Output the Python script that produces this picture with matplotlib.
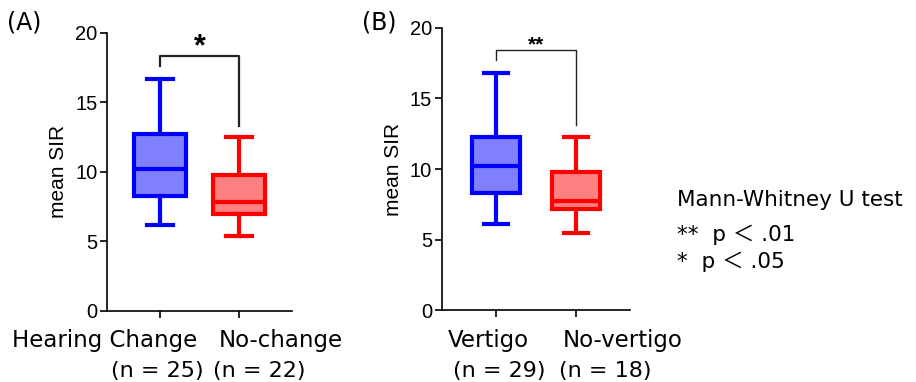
"""Box plots of mean SIR by hearing change and vertigo groups."""

import matplotlib
matplotlib.use("Agg")
import matplotlib.pyplot as plt

# panel A: hearing change vs no-change
a_labels = ["Hearing Change", "No-change"]
a_counts = ["(n = 25)", "(n = 22)"]
a_whislo = [6.2, 5.4]
a_q1 = [8.3, 7.0]
a_med = [10.2, 7.8]
a_q3 = [12.7, 9.8]
a_whishi = [16.7, 12.5]

# panel B: vertigo vs no-vertigo
b_labels = ["Vertigo", "No-vertigo"]
b_counts = ["(n = 29)", "(n = 18)"]
b_whislo = [6.1, 5.45]
b_q1 = [8.3, 7.2]
b_med = [10.2, 7.7]
b_q3 = [12.3, 9.8]
b_whishi = [16.8, 12.3]

y_ticks = [0, 5, 10, 15, 20]

EDGE = ["#0000ff", "#ff0000"]
FACE = ["#8080ff", "#ff8080"]
WIDE = ["DejaVu Sans", "Noto Sans CJK JP"]

plt.rcParams["font.family"] = ["Liberation Sans", "DejaVu Sans"]


def make_stats(whislo, q1, med, q3, whishi):
    return [
        {"whislo": lo, "q1": a, "med": m, "q3": b, "whishi": hi, "fliers": []}
        for lo, a, m, b, hi in zip(whislo, q1, med, q3, whishi)
    ]


def draw_panel(ax, stats, width):
    for i, st in enumerate(stats):
        props = dict(color=EDGE[i], linewidth=3)
        ax.bxp(
            [st],
            positions=[i],
            widths=width,
            capwidths=width * 0.5,
            patch_artist=True,
            showfliers=False,
            boxprops=dict(facecolor=FACE[i], edgecolor=EDGE[i], linewidth=3),
            medianprops=props,
            whiskerprops=props,
            capprops=props,
        )
    ax.set_xlim(-0.67, 1.67)
    ax.set_ylim(0, 20)
    ax.set_yticks(y_ticks)
    ax.set_xticks([0, 1], ["", ""])
    ax.spines[["top", "right"]].set_visible(False)
    for side in ["left", "bottom"]:
        ax.spines[side].set_linewidth(1.2)
    ax.tick_params(width=1.2, length=5, labelsize=14.5, pad=2)
    ax.set_ylabel("mean SIR", fontsize=15, labelpad=5)


def group_text(ax, xs, texts, y, size):
    trans = ax.get_xaxis_transform()
    for x, t in zip(xs, texts):
        ax.text(x, y, t, transform=trans, ha="center", va="baseline",
                fontsize=size, family=WIDE)


fig = plt.figure(figsize=(9.16, 3.82), dpi=100)
ax_a = fig.add_axes([0.1168, 0.186, 0.202, 0.728])
ax_b = fig.add_axes([0.4825, 0.188, 0.205, 0.739])

draw_panel(ax_a, make_stats(a_whislo, a_q1, a_med, a_q3, a_whishi), 0.65)
draw_panel(ax_b, make_stats(b_whislo, b_q1, b_med, b_q3, b_whishi), 0.6)

group_text(ax_a, [-0.70, 1.53], a_labels, -0.1295, 16.5)
group_text(ax_a, [-0.038, 1.25], a_counts, -0.236, 16)
group_text(ax_b, [-0.086, 1.58], b_labels, -0.131, 16.5)
group_text(ax_b, [0.049, 1.37], b_counts, -0.236, 16)

# significance brackets
ax_a.plot([0, 0, 1, 1], [17.6, 18.3, 18.3, 13.3], color="#222222", lw=1.6)
ax_a.text(0.5, 18.95, "*", ha="center", va="center", fontsize=22,
          fontweight="bold")
ax_b.plot([0, 0, 1, 1], [17.7, 18.4, 18.4, 13.1], color="#222222", lw=1.0)
ax_b.text(0.5, 18.8, "**", ha="center", va="center", fontsize=15,
          fontweight="bold")

fig.text(0.008, 0.942, "(A)", fontsize=17, family=WIDE, va="center")
fig.text(0.395, 0.942, "(B)", fontsize=17, family=WIDE, va="center")

fig.text(0.739, 0.476, "Mann-Whitney U test", fontsize=15.5, family=WIDE, va="center")
fig.text(0.739, 0.385, "**  p ＜ .01", fontsize=15.5, family=WIDE, va="center")
fig.text(0.739, 0.314, "*  p ＜ .05", fontsize=15.5, family=WIDE, va="center")

fig.savefig("out.png", dpi=100)
plt.close(fig)
